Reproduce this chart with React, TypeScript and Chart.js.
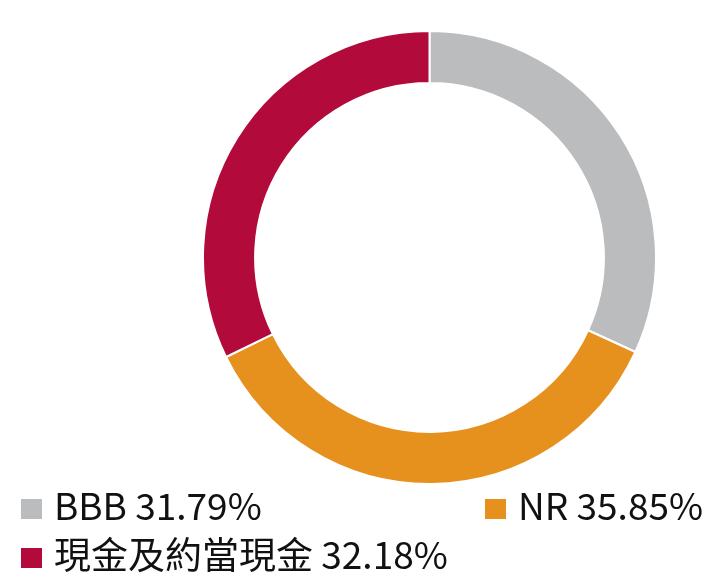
import React, { useEffect, useRef } from "react";
import { Chart, registerables } from "chart.js";

Chart.register(...registerables);

const labels = ["BBB", "NR", "現金及約當現金"];
const values = [31.79, 35.85, 32.18];
const colors = ["#BBBCBE", "#E6911E", "#B20A3A"];

const FONT = '"Noto Sans CJK TC", "Noto Sans", sans-serif';

export default function App() {
  const ref = useRef<HTMLCanvasElement | null>(null);

  useEffect(() => {
    if (!ref.current) return;
    const chart = new Chart(ref.current, {
      type: "doughnut",
      data: {
        labels,
        datasets: [
          {
            data: values,
            backgroundColor: colors,
            borderColor: "#ffffff",
            borderWidth: 2,
          },
        ],
      },
      options: {
        animation: false,
        responsive: true,
        maintainAspectRatio: false,
        cutout: "77%",
        layout: { padding: 0 },
        plugins: {
          legend: { display: false },
          tooltip: { enabled: false },
        },
      },
    });
    return () => chart.destroy();
  }, []);

  const legendItem = (i: number, left: number, top: number, gap: number) => (
    <div
      key={i}
      style={{
        position: "absolute",
        left,
        top,
        display: "flex",
        alignItems: "flex-start",
        fontFamily: FONT,
        fontSize: 37,
        color: "#111",
        whiteSpace: "nowrap",
        lineHeight: 1,
      }}
    >
      <span
        style={{
          display: "inline-block",
          width: 21,
          height: 20,
          marginTop: 13,
          background: colors[i],
          marginRight: gap,
        }}
      />
      <span>{`${labels[i]} ${values[i].toFixed(2)}%`}</span>
    </div>
  );

  return (
    <div
      style={{
        position: "absolute",
        left: 0,
        top: 0,
        width: 711,
        height: 573,
        background: "#fff",
        overflow: "hidden",
      }}
    >
      <div
        style={{
          position: "absolute",
          left: 202,
          top: 30,
          width: 455,
          height: 455,
        }}
      >
        <canvas ref={ref} />
      </div>
      {legendItem(0, 21, 486, 12)}
      {legendItem(1, 485, 486, 12)}
      {legendItem(2, 21, 535, 12)}
    </div>
  );
}
